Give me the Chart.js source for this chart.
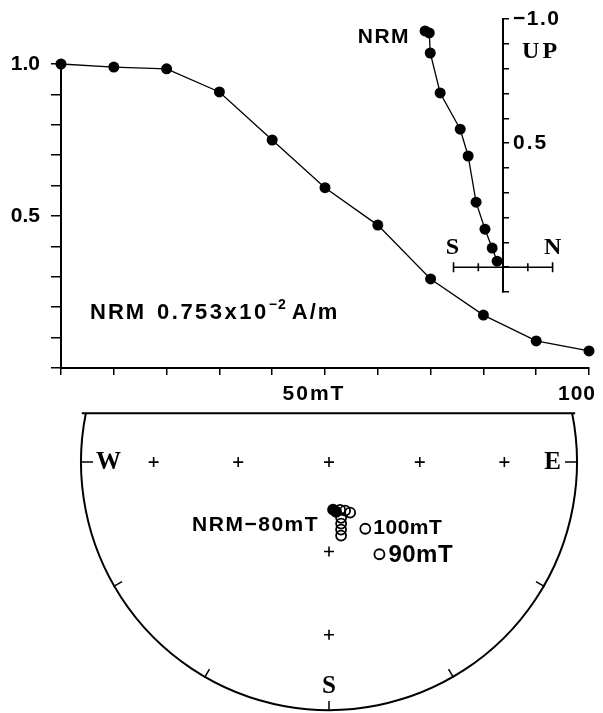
<!DOCTYPE html>
<html>
<head>
<meta charset="utf-8">
<script src="https://cdn.jsdelivr.net/npm/chart.js@4.4.1/dist/chart.umd.min.js"></script>
<style>
  html, body { margin: 0; padding: 0; background: #fff; }
  #wrap { position: relative; width: 603px; height: 713px; overflow: hidden; }
  canvas { position: absolute; left: 0; top: 0; }
</style>
</head>
<body>
<div id="wrap">
  <canvas id="afChart" width="603" height="713"></canvas>
  <canvas id="zijChart" width="603" height="713"></canvas>
  <canvas id="netChart" width="603" height="713"></canvas>
</div>
<script>
// AF demagnetization steps (mT) and normalized intensity
const afSteps = [0, 10, 20, 30, 40, 50, 60, 70, 80, 90, 100]
const intensity = [1.0, 0.99, 0.984, 0.908, 0.75, 0.593, 0.47, 0.293, 0.174, 0.089, 0.056]

// vector end-point diagram: N-S component and vertical component (negative = up)
const zijNS = [-0.315, -0.298, -0.294, -0.254, -0.173, -0.141, -0.109, -0.073, -0.044, -0.024]
const zijUp = [-0.952, -0.944, -0.863, -0.702, -0.556, -0.448, -0.262, -0.153, -0.077, -0.024]

// equal-area net: declination / inclination per step (negative inc = upper hemisphere)
const netDec = [175.2, 172.0, 167.1, 161.9, 157.6, 167.9, 169.0, 170.0, 170.8, 151.7, 151.8]
const netInc = [-74.1, -73.3, -73.7, -73.0, -71.8, -71.0, -69.1, -67.1, -65.1, -54.7, -64.7]

// net grid crosses and rim ticks
const gridDec = [270, 270, 0, 90, 90, 180, 180]
const gridInc = [30, 60, 90, 60, 30, 60, 30]
const rimTicks = [90, 120, 150, 180, 210, 240, 270]
const netTop = 0.2

const black = '#000'
const sans = '"Liberation Sans", Arial, sans-serif'
const serif = '"Liberation Serif", "Times New Roman", serif'

function text(ctx, str, x, y, font, align, spacing) {
    ctx.save()
    ctx.font = font
    ctx.fillStyle = black
    ctx.textAlign = align || 'left'
    ctx.textBaseline = 'middle'
    ctx.letterSpacing = (spacing || 0) + 'px'
    ctx.fillText(str, x, y)
    const w = ctx.measureText(str).width
    ctx.restore()
    return w
}

// equal-area (Schmidt) projection
function project(dec, inc) {
    const colat = (90 - Math.abs(inc)) * Math.PI / 180
    const r = Math.SQRT2 * Math.sin(colat / 2)
    const d = dec * Math.PI / 180
    return { x: r * Math.sin(d), y: r * Math.cos(d) }
}

// Intensity decay

const afLabels = {
    id: 'afLabels',
    afterDraw(chart) {
        const { ctx, scales: { x, y } } = chart
        const ly = y.getPixelForValue(0) + 26
        text(ctx, '50mT', x.getPixelForValue(50) - 11, ly, 'bold 21px ' + sans, 'center', 2)
        text(ctx, '100', x.getPixelForValue(100) - 12, ly, 'bold 21px ' + sans, 'center', 1)

        let px = x.getPixelForValue(5.5)
        const py = y.getPixelForValue(0.18)
        text(ctx, 'NRM', px, py, 'bold 22px ' + sans, 'left', 2)
        px += 67
        px += text(ctx, '0.753x10', px, py, 'bold 22px ' + sans, 'left', 2.5)
        px += text(ctx, '\u22122', px, py - 8, 'bold 14px ' + sans, 'left', 1)
        text(ctx, 'A/m', px + 5, py, 'bold 22px ' + sans, 'left', 2)
    }
}

new Chart(document.getElementById('afChart'), {
    type: 'line',
    data: {
        datasets: [{
            data: afSteps.map((s, i) => ({ x: s, y: intensity[i] })),
            borderColor: black,
            borderWidth: 1.3,
            pointRadius: 5.5,
            pointBackgroundColor: black,
            pointBorderWidth: 0,
            tension: 0,
            clip: false
        }]
    },
    options: {
        responsive: false,
        animation: false,
        events: [],
        layout: { padding: { top: 64, right: 14, left: 0, bottom: 0 } },
        plugins: { legend: { display: false }, tooltip: { enabled: false } },
        scales: {
            x: {
                type: 'linear', min: 0, max: 100,
                afterFit: s => { s.height = 345 },
                ticks: { stepSize: 10, display: false },
                grid: { drawOnChartArea: false, tickLength: 7, color: black, lineWidth: 1.5 },
                border: { color: black, width: 2 }
            },
            y: {
                min: 0, max: 1,
                afterFit: s => { s.width = 61 },
                ticks: {
                    stepSize: 0.1,
                    color: black,
                    padding: 11,
                    font: { family: sans, size: 21, weight: 'bold' },
                    callback: v => Math.abs(v - 1) < 1e-6 ? '1.0' : Math.abs(v - 0.5) < 1e-6 ? '0.5' : ''
                },
                grid: { drawOnChartArea: false, tickLength: 10, color: black, lineWidth: 1.5 },
                border: { color: black, width: 2 }
            }
        }
    },
    plugins: [afLabels]
})

// Vector end-point diagram

const zijDecor = {
    id: 'zijDecor',
    afterDraw(chart) {
        const { ctx, scales: { x, y } } = chart
        const oy = y.getPixelForValue(0), ox = x.getPixelForValue(0)
        const l = x.getPixelForValue(-0.2), r = x.getPixelForValue(0.2)
        ctx.save()
        ctx.strokeStyle = black
        ctx.lineWidth = 1.6
        ctx.beginPath()
        ctx.moveTo(l, oy); ctx.lineTo(r, oy)
        ;[-0.2, -0.1, 0.1, 0.2].forEach(v => {
            const p = x.getPixelForValue(v), h = Math.abs(v) > 0.15 ? 5 : 4
            ctx.moveTo(p, oy - h); ctx.lineTo(p, oy + h)
        })
        ctx.stroke()
        ctx.restore()

        text(ctx, '\u22121.0', ox + 10, y.getPixelForValue(-1.0), 'bold 21px ' + sans, 'left', 1.5)
        text(ctx, 'UP', ox + 19, y.getPixelForValue(-0.867), 'bold 24px ' + serif, 'left', 3)
        text(ctx, '0.5', ox + 10, y.getPixelForValue(-0.5), 'bold 21px ' + sans, 'left', 2)
        text(ctx, 'S', l - 1, oy - 19, 'bold 24px ' + serif, 'center')
        text(ctx, 'N', r, oy - 19, 'bold 24px ' + serif, 'center')
        text(ctx, 'NRM', x.getPixelForValue(zijNS[0]) - 15, y.getPixelForValue(zijUp[0]) + 6,
            'bold 21px ' + sans, 'right', 1.5)
    }
}

new Chart(document.getElementById('zijChart'), {
    type: 'scatter',
    data: {
        datasets: [{
            data: zijNS.map((v, i) => ({ x: v, y: zijUp[i] })),
            showLine: true,
            borderColor: black,
            borderWidth: 1.3,
            pointRadius: 5.5,
            pointBackgroundColor: black,
            pointBorderWidth: 0,
            clip: false
        }]
    },
    options: {
        responsive: false,
        animation: false,
        events: [],
        layout: { padding: { left: 404, right: 50.4, top: 19, bottom: 421 } },
        plugins: { legend: { display: false }, tooltip: { enabled: false } },
        scales: {
            x: { type: 'linear', min: -0.4, max: 0.2, display: false },
            y: {
                type: 'linear', min: -1.0, max: 0.1, reverse: true,
                position: { x: 0 },
                ticks: { display: false, stepSize: 0.1 },
                grid: { drawOnChartArea: false, tickLength: -7, color: black, lineWidth: 1.5 },
                border: { color: black, width: 2 }
            }
        }
    },
    plugins: [zijDecor]
})

// Equal-area net

const netFrame = {
    id: 'netFrame',
    beforeDatasetsDraw(chart) {
        const { ctx, scales: { x, y } } = chart
        const cx = x.getPixelForValue(0), cy = y.getPixelForValue(0)
        const R = x.getPixelForValue(1) - cx
        const topY = y.getPixelForValue(netTop)
        const half = Math.sqrt(R * R - (cy - topY) * (cy - topY))
        const a0 = Math.asin((topY - cy) / R)
        ctx.save()
        ctx.strokeStyle = black
        ctx.lineWidth = 2
        ctx.beginPath()
        ctx.arc(cx, cy, R, a0, Math.PI - a0)
        ctx.moveTo(cx - half - 4, topY); ctx.lineTo(cx + half + 3, topY)
        ctx.stroke()
        ctx.lineWidth = 1.5
        ctx.beginPath()
        rimTicks.forEach(az => {
            const a = az * Math.PI / 180
            const len = (az === 90 || az === 270) ? 12 : 9
            const sx = Math.sin(a), sy = -Math.cos(a)
            ctx.moveTo(cx + sx * (R + 1), cy + sy * (R + 1))
            ctx.lineTo(cx + sx * (R - len), cy + sy * (R - len))
        })
        ctx.stroke()
        ctx.restore()

        text(ctx, 'W', cx - R + 15, cy, 'bold 25px ' + serif, 'left')
        text(ctx, 'E', cx + R - 16, cy, 'bold 25px ' + serif, 'right')
        text(ctx, 'S', cx, cy + R - 24, 'bold 25px ' + serif, 'center')
    },
    afterDraw(chart) {
        const { ctx, scales: { x, y } } = chart
        const pts = netDec.map((d, i) => project(d, netInc[i]))
        const p0 = pts[0], p9 = pts[9], p10 = pts[10]
        text(ctx, 'NRM\u221280mT', x.getPixelForValue(p0.x) - 14, y.getPixelForValue(p0.y) + 16,
            'bold 21px ' + sans, 'right', 1.5)
        text(ctx, '100mT', x.getPixelForValue(p10.x) + 8, y.getPixelForValue(p10.y) - 1,
            'bold 21px ' + sans, 'left', 0.5)
        text(ctx, '90mT', x.getPixelForValue(p9.x) + 9, y.getPixelForValue(p9.y) + 1,
            'bold 24px ' + sans, 'left', 0.5)
    }
}

new Chart(document.getElementById('netChart'), {
    type: 'scatter',
    data: {
        datasets: [
            {
                data: gridDec.map((d, i) => project(d, gridInc[i])),
                pointStyle: 'cross',
                pointRadius: 5,
                borderColor: black,
                pointBorderWidth: 1.6
            },
            {
                data: netDec.map((d, i) => project(d, netInc[i])),
                pointStyle: 'circle',
                pointRadius: 5,
                borderColor: black,
                pointBorderWidth: 1.8,
                pointBackgroundColor: netDec.map((d, i) => i < 2 ? black : 'rgba(0,0,0,0)')
            }
        ]
    },
    options: {
        responsive: false,
        animation: false,
        events: [],
        layout: { padding: { left: 81, right: 26, top: 218, bottom: 0 } },
        plugins: { legend: { display: false }, tooltip: { enabled: false } },
        scales: {
            x: { type: 'linear', min: -1, max: 1, display: false },
            y: { type: 'linear', min: -1, max: 1, display: false }
        }
    },
    plugins: [netFrame]
})
</script>
</body>
</html>
